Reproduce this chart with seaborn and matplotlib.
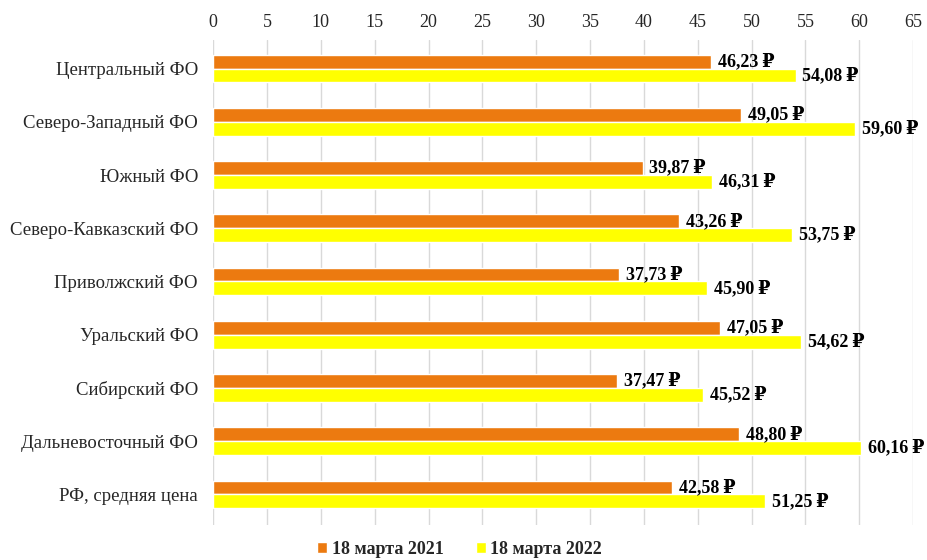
import matplotlib
matplotlib.use("Agg")
import matplotlib.pyplot as plt
import seaborn as sns
import pandas as pd

categories = ["Центральный ФО", "Северо-Западный ФО", "Южный ФО", "Северо-Кавказский ФО",
              "Приволжский ФО", "Уральский ФО", "Сибирский ФО", "Дальневосточный ФО",
              "РФ, средняя цена"]
series_names = ["18 марта 2021", "18 марта 2022"]
values_2021 = [46.23, 49.05, 39.87, 43.26, 37.73, 47.05, 37.47, 48.80, 42.58]
values_2022 = [54.08, 59.60, 46.31, 53.75, 45.90, 54.62, 45.52, 60.16, 51.25]
x_ticks = list(range(0, 70, 5))
colors = ["#EC7A10", "#FFFF00"]

df = pd.DataFrame({
    "cat": categories * 2,
    "series": [series_names[0]] * len(categories) + [series_names[1]] * len(categories),
    "val": values_2021 + values_2022,
})

sns.set_theme(style="white")
plt.rcParams["font.family"] = ["Liberation Serif", "DejaVu Serif"]

fig = plt.figure(figsize=(9.27, 5.6), dpi=100)
ax = fig.add_axes([0.230, 0.062, 0.755, 0.866])

sns.barplot(data=df, y="cat", x="val", hue="series", orient="h", palette=colors,
            width=0.52, ax=ax, legend=True, saturation=1)

for cont in ax.containers:
    labels = [f"{v:.2f}".replace(".", ",") + "\u2009₽" for v in cont.datavalues]
    ax.bar_label(cont, labels=labels, padding=5, fontsize=13, fontweight="bold", color="black")

ax.set_xlim(0, 65)
ax.set_ylim(8.58, -0.53)
ax.set_xticks(x_ticks)
ax.xaxis.tick_top()
ax.tick_params(axis="x", length=0, labelsize=13, pad=7)
ax.tick_params(axis="y", length=0, labelsize=13.5, pad=11)
ax.grid(axis="x", color="#D9D9D9", linewidth=1)
ax.set_axisbelow(True)
for s in ax.spines.values():
    s.set_visible(False)
ax.set_xlabel("")
ax.set_ylabel("")

h, l = ax.get_legend_handles_labels()
ax.legend_.remove()
fig.legend(h, l, loc="lower center", bbox_to_anchor=(0.496, -0.025), ncol=2, frameon=False,
           prop={"size": 13, "weight": "bold"}, handlelength=0.55, handleheight=0.55,
           handletextpad=0.25, columnspacing=1.8)

fig.savefig("out.png", dpi=100)
